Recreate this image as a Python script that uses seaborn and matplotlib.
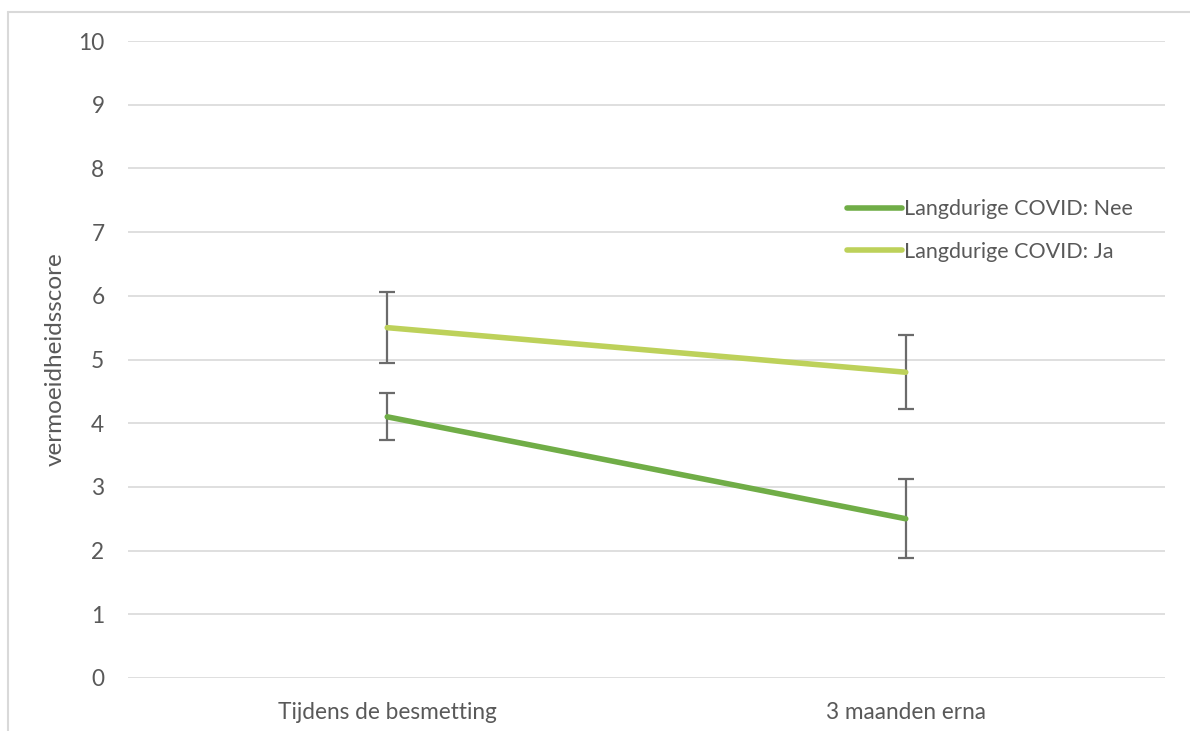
import matplotlib
matplotlib.use("Agg")
import matplotlib.pyplot as plt
from matplotlib.lines import Line2D
import seaborn as sns
import pandas as pd

# Data
timepoints = ["Tijdens de besmetting", "3 maanden erna"]
groups = ["Langdurige COVID: Nee", "Langdurige COVID: Ja"]
scores_nee = [4.1, 2.5]
scores_ja = [5.5, 4.8]
err_nee = [0.37, 0.62]
err_ja = [0.56, 0.58]
y_ticks = [0, 1, 2, 3, 4, 5, 6, 7, 8, 9, 10]
y_label = "vermoeidheidsscore"

colors = {groups[0]: "#70AD47", groups[1]: "#BDD15A"}
text_color = "#595959"
grid_color = "#D9D9D9"

df = pd.DataFrame({
    "tijd": timepoints * 2,
    "x": [0, 1] * 2,
    "score": scores_nee + scores_ja,
    "err": err_nee + err_ja,
    "groep": [groups[0]] * 2 + [groups[1]] * 2,
})

sns.set_theme(style="white")
plt.rcParams["font.family"] = ["Lato", "DejaVu Sans"]

fig = plt.figure(figsize=(11.9, 7.31), dpi=100)
ax = fig.add_axes([128 / 1190, 1 - 678 / 731, (1165 - 128) / 1190, (678 - 41) / 731])

# chart frame
fig.add_artist(Line2D([8 / 1190, 8 / 1190], [0, 1 - 12 / 731], transform=fig.transFigure,
                      color=grid_color, lw=1.5))
fig.add_artist(Line2D([8 / 1190, 1], [1 - 12 / 731, 1 - 12 / 731], transform=fig.transFigure,
                      color=grid_color, lw=1.5))

for yt in y_ticks:
    ax.axhline(yt, color=grid_color, lw=1.2, zorder=0)

# error bars
for g in groups:
    sub = df[df["groep"] == g]
    ax.errorbar(sub["x"], sub["score"], yerr=sub["err"], fmt="none",
                ecolor="#6B6B6B", elinewidth=1.6, capsize=5.5, capthick=1.6, zorder=2)

sns.lineplot(data=df, x="x", y="score", hue="groep", palette=colors,
             linewidth=4.0, ax=ax, legend=False, zorder=3,
             solid_capstyle="round")

ax.set_xlim(-0.5, 1.5)
ax.set_ylim(0, 10)
ax.set_xticks([0, 1])
ax.set_xticklabels(timepoints)
ax.set_yticks(y_ticks)
ax.tick_params(axis="both", length=0, labelsize=16.3, labelcolor=text_color)
ax.tick_params(axis="x", pad=17)
ax.tick_params(axis="y", pad=17)
ax.set_xlabel("")
ax.set_ylabel(y_label, fontsize=17.5, color=text_color, labelpad=9)
for s in ax.spines.values():
    s.set_visible(False)

handles = [Line2D([0], [0], color=colors[g], lw=4.0, solid_capstyle="round") for g in groups]
leg = ax.legend(handles, groups, loc="upper left", bbox_to_anchor=(0.675, 0.782),
                frameon=False, fontsize=15.5, handlelength=2.55, handletextpad=0.1,
                labelspacing=1.05, labelcolor=text_color)

fig.savefig("out.png", dpi=100)
